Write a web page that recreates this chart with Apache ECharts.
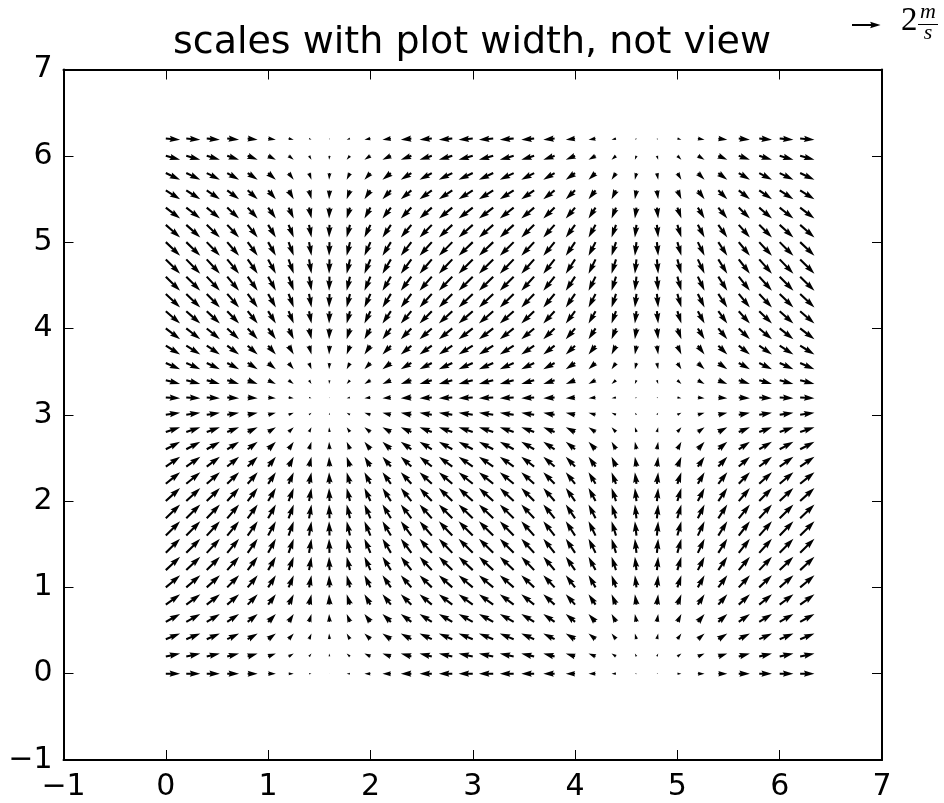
<!DOCTYPE html>
<html>
<head>
<meta charset="utf-8">
<script src="https://cdn.jsdelivr.net/npm/echarts@6/dist/echarts.min.js"></script>
<style>html,body{margin:0;padding:0;background:#fff}#c{width:944px;height:803px}</style>
</head>
<body>
<div id="c"></div>
<script>
// grid positions of the arrow tails
var xs = [0.0,0.2,0.4,0.6,0.8,1.0,1.2,1.4,1.6,1.8,2.0,2.2,2.4,2.6,2.8,3.0,3.2,3.4,3.6,3.8,4.0,4.2,4.4,4.6,4.8,5.0,5.2,5.4,5.6,5.8,6.0,6.2];
var ys = [0.0,0.2,0.4,0.6,0.8,1.0,1.2,1.4,1.6,1.8,2.0,2.2,2.4,2.6,2.8,3.0,3.2,3.4,3.6,3.8,4.0,4.2,4.4,4.6,4.8,5.0,5.2,5.4,5.6,5.8,6.0,6.2];
// horizontal component per column (m/s)
var uByColumn = [1.00,0.98,0.92,0.83,0.70,0.54,0.36,0.17,-0.03,-0.23,-0.42,-0.59,-0.74,-0.86,-0.94,-0.99,-1.00,-0.97,-0.90,-0.79,-0.65,-0.49,-0.31,-0.11,0.09,0.28,0.47,0.63,0.78,0.89,0.96,1.00];
// vertical component per row (m/s)
var vByRow = [0.00,0.20,0.39,0.56,0.72,0.84,0.93,0.99,1.00,0.97,0.91,0.81,0.68,0.52,0.33,0.14,-0.06,-0.26,-0.44,-0.61,-0.76,-0.87,-0.95,-0.99,-1.00,-0.96,-0.88,-0.77,-0.63,-0.46,-0.28,-0.08];
var xTicks = [-1,0,1,2,3,4,5,6,7];
var yTicks = [-1,0,1,2,3,4,5,6,7];
var keyValue = 2;
var keyLabel = '2';
var titleText = 'scales with plot width, not view';

var data = [];
for (var j = 0; j < ys.length; j++) {
  for (var i = 0; i < xs.length; i++) {
    data.push([xs[i], ys[j], uByColumn[i], vByRow[j]]);
  }
}

var W = 2.1;             // shaft width in px
var HL = 5, HAL = 4.5, HW = 3; // head params in shaft widths
var WIDTH_DIV = 57.2;    // plot width / px per (m/s)

function arrowPoints(L) {
  var minsh = HL;
  var xv, yv;
  if (L >= minsh) {
    xv = [0, L - HAL, L - HL, L, L - HL, L - HAL, 0];
    yv = [0.5, 0.5, HW / 2, 0, -HW / 2, -0.5, -0.5];
  } else {
    var s = L / minsh;
    xv = [0, minsh - HAL, minsh - HL, minsh, minsh - HL, minsh - HAL, 0].map(function (a) { return a * s; });
    yv = [0.5, 0.5, HW / 2, 0, -HW / 2, -0.5, -0.5].map(function (a) { return a * s; });
  }
  return xv.map(function (x, k) { return [x, yv[k]]; });
}

var chart = echarts.init(document.getElementById('c'), null, {renderer: 'canvas'});
var fmt = function (v) { return String(v).replace('-', '\u2212'); };
var axisCommon = {
  type: 'value', min: xTicks[0], max: xTicks[xTicks.length - 1], interval: 1,
  splitLine: {show: false},
  axisLine: {show: true, onZero: false, lineStyle: {color: '#000', width: 2}},
  axisTick: {show: true, inside: true, length: 10, lineStyle: {color: '#000', width: 1}}
};
var pxPerUnit = 14.3;

var option = {
  animation: false,
  backgroundColor: '#fff',
  title: {
    text: titleText, left: 'center', top: 19,
    textStyle: {fontFamily: 'DejaVu Sans', fontSize: 38, fontWeight: 'normal', color: '#000'}
  },
  grid: {left: 63.5, right: 62, top: 69.5, bottom: 43, containLabel: false},
  xAxis: [
    Object.assign({}, axisCommon, {position: 'bottom',
      axisLabel: {show: true, margin: 12, color: '#000', fontFamily: 'DejaVu Sans', fontSize: 30, formatter: fmt, showMinLabel: true, showMaxLabel: true}}),
    Object.assign({}, axisCommon, {position: 'top', axisLabel: {show: false}})
  ],
  yAxis: [
    Object.assign({}, axisCommon, {min: yTicks[0], max: yTicks[yTicks.length - 1], position: 'left',
      axisLabel: {show: true, margin: 11, color: '#000', fontFamily: 'DejaVu Sans', fontSize: 30, formatter: fmt, showMinLabel: true, showMaxLabel: true}}),
    Object.assign({}, axisCommon, {min: yTicks[0], max: yTicks[yTicks.length - 1], position: 'right', axisLabel: {show: false}})
  ],
  series: [{
    type: 'custom',
    xAxisIndex: 0, yAxisIndex: 0,
    data: data,
    clip: false,
    renderItem: function (params, api) {
      var x = api.value(0), y = api.value(1), u = api.value(2), v = api.value(3);
      var p = api.coord([x, y]);
      var plotW = api.coord([7, 0])[0] - api.coord([-1, 0])[0];
      pxPerUnit = plotW / WIDTH_DIV;
      var mag = Math.sqrt(u * u + v * v);
      var Lpx = mag * pxPerUnit;
      if (Lpx < 0.3) {
        return {type: 'circle', shape: {cx: p[0], cy: p[1], r: 0.7}, style: {fill: '#000'}};
      }
      var L = Lpx / W;
      var ang = Math.atan2(-v, u);
      var c = Math.cos(ang), s = Math.sin(ang);
      var pts = arrowPoints(L).map(function (q) {
        var qx = q[0] * W, qy = q[1] * W;
        return [p[0] + qx * c - qy * s, p[1] + qx * s + qy * c];
      });
      return {type: 'polygon', shape: {points: pts}, style: {fill: '#000', stroke: null}};
    }
  }]
};
chart.setOption(option);

// quiver key (drawn with the same scale)
var keyLen = keyValue * pxPerUnit / W;
var kx = 852, ky = 25;
var keyPts = arrowPoints(keyLen).map(function (q) { return [kx + q[0] * W, ky - q[1] * W]; });
chart.setOption({
  graphic: [
    {type: 'polygon', shape: {points: keyPts}, style: {fill: '#000'}},
    {type: 'text', x: 901, y: 21, style: {text: keyLabel, font: '33px "Liberation Serif"', fill: '#000', verticalAlign: 'middle', align: 'left'}},
    {type: 'text', x: 928, y: 12, style: {text: 'm', font: 'italic 22px "Liberation Serif"', fill: '#000', verticalAlign: 'middle', align: 'center'}},
    {type: 'line', shape: {x1: 918, y1: 24.5, x2: 938, y2: 24.5}, style: {stroke: '#000', lineWidth: 1}},
    {type: 'text', x: 928, y: 33, style: {text: 's', font: 'italic 22px "Liberation Serif"', fill: '#000', verticalAlign: 'middle', align: 'center'}}
  ]
});
</script>
</body>
</html>
